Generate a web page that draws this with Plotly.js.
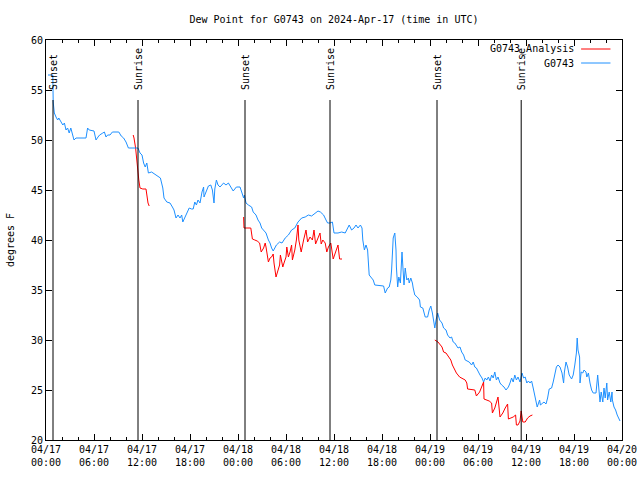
<!DOCTYPE html>
<html>
<head>
<meta charset="utf-8">
<script src="https://cdn.plot.ly/plotly-3.0.1.min.js"></script>
<style>html,body{margin:0;padding:0;background:#fff;}#chart{width:640px;height:480px;}</style>
</head>
<body>
<div id="chart"></div>
<script>
// Hours since 2024-04-17 00:00 UTC
const obsHours = [0.25,0.85,0.9,1.04,1.25,1.46,1.6,1.9,2.1,2.3,2.5,2.7,2.9,3.1,3.3,3.5,3.75,5.0,5.2,5.4,6.0,6.25,6.5,6.7,7.1,7.3,7.5,7.7,8.0,8.3,9.1,9.4,9.7,10.0,10.3,11.0,11.5,11.75,12.0,12.2,12.4,12.6,12.8,13.2,13.6,14.0,14.3,14.6,14.75,15.1,15.5,15.8,16.0,16.25,16.5,16.75,16.96,17.1,17.4,17.6,17.9,18.2,18.4,18.6,18.8,19.0,19.25,19.5,19.7,19.75,20.0,20.3,20.6,20.8,21.0,21.1,21.3,21.5,21.75,22.2,22.5,22.8,23.1,23.4,23.8,24.25,24.5,24.7,24.8,25.0,25.3,25.7,25.9,26.25,26.5,26.75,26.96,27.2,27.5,27.8,28.0,28.2,28.4,28.6,28.8,29.2,29.5,29.9,30.3,30.7,31.1,31.5,31.96,32.4,32.8,33.2,33.6,34.0,34.3,34.7,35.0,35.2,35.5,35.8,36.0,36.5,36.96,37.4,37.9,38.2,38.5,38.75,39.0,39.3,39.5,39.6,39.8,40.0,40.2,40.3,40.4,40.7,40.9,41.1,42.2,42.4,42.7,42.9,43.1,43.2,43.3,43.4,43.6,43.75,43.8,43.96,44.1,44.3,44.5,44.6,44.75,44.9,45.1,45.3,45.4,45.6,45.8,45.9,46.1,46.4,46.7,46.8,47.1,47.4,47.7,47.9,48.1,48.3,48.5,48.6,48.75,48.96,49.2,49.5,49.7,50.0,50.2,50.5,50.7,50.9,51.1,51.3,51.5,51.75,51.96,52.2,52.4,52.9,53.2,53.4,53.6,53.8,54.0,54.25,54.5,54.7,54.9,55.1,55.3,55.5,55.7,55.9,56.1,56.3,56.5,56.75,56.96,57.25,57.5,57.8,58.0,58.2,58.4,58.6,58.8,59.0,59.25,59.5,59.7,59.9,60.1,60.3,60.5,60.7,60.9,61.1,61.25,61.4,61.7,61.8,62.1,62.25,62.5,62.7,62.9,63.2,63.4,63.6,63.8,64.0,64.25,64.5,64.7,64.8,65.0,65.2,65.4,65.7,65.9,66.1,66.3,66.4,66.5,66.7,66.75,66.9,67.1,67.25,67.5,67.6,67.8,68.0,68.2,68.4,68.75,68.96,69.1,69.25,69.4,69.6,69.75,69.9,70.1,70.2,70.4,70.6,70.75,70.8,71.0,71.2,71.4,71.6,71.75];
const obsDew = [56.5,56.5,53.8,52.7,52.3,52.0,52.2,51.8,51.5,51.7,51.0,51.2,50.7,51.2,50.5,50.0,50.2,50.2,51.2,51.0,50.9,50.0,50.3,50.5,50.7,50.8,50.3,50.5,50.5,50.8,50.8,50.4,50.2,49.8,49.2,49.2,49.2,48.7,48.5,47.7,47.3,47.7,46.7,46.8,46.6,46.4,46.2,45.2,44.2,43.8,43.7,43.3,43.0,42.2,42.5,42.2,42.5,41.8,42.3,42.7,43.2,43.1,43.1,43.8,43.5,44.0,43.7,44.8,45.3,44.3,44.8,45.4,45.5,45.0,43.7,45.1,46.0,45.5,45.3,45.7,45.5,45.7,45.3,44.9,45.3,45.3,44.7,44.2,44.5,43.7,43.5,43.3,42.8,42.5,42.0,41.7,41.2,41.0,40.7,40.0,39.7,39.2,38.9,39.2,39.5,39.8,39.7,40.2,40.5,41.0,41.2,41.8,42.2,42.3,42.5,42.4,42.7,42.9,42.8,42.5,42.0,41.7,41.7,41.8,40.7,40.7,40.8,40.7,41.5,41.0,41.2,41.5,41.2,41.5,41.2,40.0,39.0,39.5,39.0,37.7,36.5,36.2,36.0,35.5,35.4,34.7,35.2,35.3,36.0,37.0,39.0,40.2,40.7,39.0,37.3,35.3,36.3,35.7,38.8,37.0,35.5,37.2,36.0,36.2,35.7,36.2,35.7,35.2,34.5,34.3,34.0,33.3,33.2,32.3,32.3,33.0,33.4,32.7,31.8,31.2,32.0,32.7,32.0,31.7,31.2,31.0,30.5,30.2,30.3,29.8,29.7,29.5,29.2,29.3,28.8,28.5,28.0,27.8,27.5,27.8,27.3,27.2,26.8,26.5,26.2,25.8,26.2,26.0,26.3,25.9,26.5,26.2,26.8,26.0,26.3,25.7,25.5,25.3,25.0,25.3,25.7,26.2,25.8,26.5,26.0,26.3,25.8,26.7,26.2,26.3,25.7,25.9,25.7,25.9,25.2,24.5,23.8,23.3,24.0,23.5,23.7,23.8,23.6,24.2,25.1,25.2,25.8,26.7,27.3,27.5,27.3,26.7,25.7,26.8,27.8,27.3,26.5,26.1,26.5,27.5,28.7,30.2,29.0,28.3,25.7,26.8,26.7,27.0,26.8,26.3,26.7,25.7,25.0,24.7,24.7,26.5,25.2,23.8,24.8,23.8,25.2,24.2,25.7,24.0,24.8,23.8,24.8,24.0,23.3,23.0,22.5,22.2,21.9];

const anaHours = [10.9,11.0,11.2,11.3,11.5,11.6,11.75,12.1,12.5,12.6,12.75,12.9,null,
  24.7,24.75,25.6,25.8,26.1,26.4,26.7,26.9,27.2,27.4,27.5,27.8,28.0,28.2,28.4,28.5,28.75,28.9,29.2,29.3,29.6,29.75,30.0,30.1,30.3,30.5,30.7,30.8,31.1,31.3,31.5,31.6,31.9,32.2,32.5,32.7,33.0,33.3,33.5,33.7,33.9,34.25,34.4,34.6,34.9,35.1,35.3,35.6,35.9,36.5,36.7,37.0,null,
  48.6,49.0,49.5,49.7,50.0,50.3,50.6,50.8,51.1,51.3,51.7,51.96,52.4,52.6,52.7,53.6,53.8,54.2,54.5,54.7,54.75,55.4,55.7,55.8,56.1,56.5,56.75,57.1,57.4,57.7,57.8,58.1,58.4,58.7,58.8,59.0,59.25,59.4,59.6,59.9,60.2,60.5,60.8];
const anaDew = [50.5,50.2,49.2,48.3,47.3,46.0,45.2,45.1,45.1,44.4,43.7,43.4,null,
  42.3,41.2,41.2,40.1,40.0,39.9,39.7,38.8,39.2,39.7,39.3,37.8,38.2,38.3,38.6,37.7,36.3,36.7,37.5,38.5,37.3,37.7,38.3,39.3,38.3,38.8,39.5,38.0,39.0,40.0,41.5,40.0,38.8,40.0,41.0,39.8,40.3,40.0,41.0,39.6,40.0,40.7,39.6,40.0,39.7,38.8,39.3,39.7,38.1,39.5,38.1,38.1,null,
  30.0,29.8,29.3,28.8,28.7,28.3,28.0,27.5,27.0,26.7,26.3,26.2,26.0,25.7,25.1,25.0,24.4,24.8,25.3,25.8,24.1,23.9,23.7,22.7,23.2,24.3,22.3,22.7,23.2,23.6,22.1,22.2,22.3,22.5,21.5,21.5,21.9,22.9,21.8,21.8,22.2,22.4,22.5];

const sunHours = [0.875, 11.5, 24.875, 35.5, 48.875, 59.4];
const sunLabels = ["Sunset","Sunrise","Sunset","Sunrise","Sunset","Sunrise"];
const seriesNames = ["G0743_Analysis","G0743"];
const seriesColors = ["#ff0000","#1e90ff"];

const base = Date.UTC(2024,3,17,0,0,0);
function toDate(h){
  if(h===null) return null;
  return new Date(base + h*3600000).toISOString().slice(0,19).replace('T',' ');
}

const FONT = "DejaVu Sans Mono, monospace";

const traces = [
  {x: anaHours.map(toDate), y: anaDew, type:'scatter', mode:'lines', name:seriesNames[0],
   line:{color:seriesColors[0], width:1}, connectgaps:false, showlegend:false},
  {x: obsHours.map(toDate), y: obsDew, type:'scatter', mode:'lines', name:seriesNames[1],
   line:{color:seriesColors[1], width:1}, showlegend:false}
];

const shapes = sunHours.map(h => ({type:'line', xref:'x', yref:'y', x0:toDate(h), x1:toDate(h), y0:20, y1:54,
  line:{color:'#000', width:1}}));
const annotations = sunHours.map((h,i) => ({xref:'x', yref:'y', x:toDate(h), y:54.8, text:sunLabels[i],
  textangle:-90, showarrow:false, xanchor:'center', yanchor:'bottom', font:{family:FONT, size:10, color:'#000'}}));

// legend (text left of line sample)
const legY = [0.9775, 0.9425];
seriesNames.forEach((n,i)=>{
  annotations.push({xref:'paper', yref:'paper', x:0.92, y:legY[i], text:n, showarrow:false,
    xanchor:'right', yanchor:'middle', font:{family:FONT, size:10, color:'#000'}});
  shapes.push({type:'line', xref:'paper', yref:'paper', x0:0.929, x1:0.98, y0:legY[i], y1:legY[i],
    line:{color:seriesColors[i], width:1}});
});

const layout = {
  width:640, height:480,
  margin:{l:46, r:18, t:40, b:40},
  paper_bgcolor:'#fff', plot_bgcolor:'#fff',
  font:{family:FONT, size:10, color:'#000'},
  title:{text:'Dew Point for G0743 on 2024-Apr-17 (time in UTC)', xref:'paper', x:0.5, xanchor:'center', y:0.96, yanchor:'middle',
    font:{family:FONT, size:10, color:'#000'}},
  xaxis:{type:'date', range:[toDate(0), toDate(72)], dtick:21600000, tick0:toDate(0),
    tickformat:'%m/%d<br>%H:%M', ticks:'inside', ticklen:6, tickcolor:'#000', tickwidth:1,
    showline:true, linecolor:'#000', linewidth:1, mirror:'allticks', showgrid:false, zeroline:false,
    minor:{dtick:7200000, ticks:'inside', ticklen:3, tickcolor:'#000', showgrid:false},
    tickfont:{family:FONT, size:10, color:'#000'}},
  yaxis:{range:[20,60], dtick:5, ticks:'inside', ticklen:6, tickcolor:'#000',
    showline:true, linecolor:'#000', linewidth:1, mirror:'allticks', showgrid:false, zeroline:false,
    title:{text:'degrees F', font:{family:FONT, size:10, color:'#000'}, standoff:14},
    tickfont:{family:FONT, size:10, color:'#000'}},
  shapes: shapes,
  annotations: annotations,
  showlegend:false
};

Plotly.newPlot('chart', traces, layout, {staticPlot:true, displayModeBar:false});
</script>
</body>
</html>
